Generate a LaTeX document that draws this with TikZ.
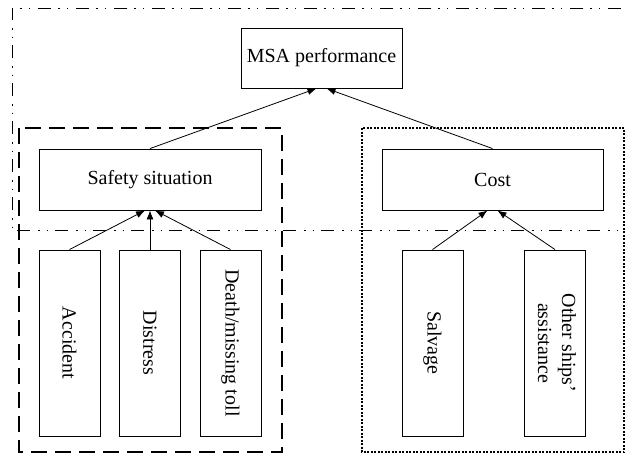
\documentclass[tikz,border=0pt]{standalone}
\usepackage{fontspec}
\setmainfont{Liberation Serif}
\usetikzlibrary{arrows.meta}

\tikzset{
  box/.style={draw, line width=0.9pt, inner sep=0pt, font=\fontsize{20}{24}\selectfont},
  leaf/.style={box, minimum width=61pt, minimum height=186pt},
  link/.style={line width=0.8pt, -{Latex[length=9pt,width=7pt]}},
}

\begin{document}
\begin{tikzpicture}[x=1pt,y=-1pt]
      \useasboundingbox (0,0) rectangle (627,455);
      % grouping frames
      \draw[line width=0.9pt, dash pattern=on 13pt off 8pt on 1.5pt off 7pt on 1.5pt off 7pt]
        (621,8) -- (12,8) -- (12,230) -- (623,230);
      \draw[line width=1.2pt, dash pattern=on 16pt off 8pt] (19,128) rectangle (282,452);
      \draw[line width=1.1pt, dash pattern=on 2pt off 1.5pt] (362,128) rectangle (624,452);
      % boxes
      \node[box, minimum width=161pt, minimum height=60pt] (msa) at (321.5,58) {MSA performance};
      \node[box, minimum width=222pt, minimum height=61pt] (safety) at (150,179.5) {Safety situation};
      \node[box, minimum width=221pt, minimum height=61pt] (cost) at (492.5,179.5) {Cost};
      \node[leaf] (accident) at (69.5,343) {\rotatebox{-90}{Accident}};
      \node[leaf] (distress) at (150,343) {\rotatebox{-90}{Distress}};
      \node[leaf] (death) at (230.5,343) {\rotatebox{-90}{Death/missing toll}};
      \node[leaf] (salvage) at (432.5,343) {\rotatebox{-90}{Salvage}};
      \node[leaf] (other) at (555,343) {\rotatebox{-90}{\begin{tabular}{@{}c@{}}Other ships’\\assistance\end{tabular}}};
      % links
      \draw[link] (accident.north) -- ([xshift=-5pt]safety.south);
      \draw[link] (distress.north) -- (safety.south);
      \draw[link] (death.north) -- ([xshift=5pt]safety.south);
      \draw[link] (salvage.north) -- ([xshift=-5pt]cost.south);
      \draw[link] (other.north) -- ([xshift=5pt]cost.south);
      \draw[link] (safety.north) -- ([xshift=-5pt]msa.south);
      \draw[link] (cost.north) -- ([xshift=5pt]msa.south);
    \end{tikzpicture}
\end{document}
